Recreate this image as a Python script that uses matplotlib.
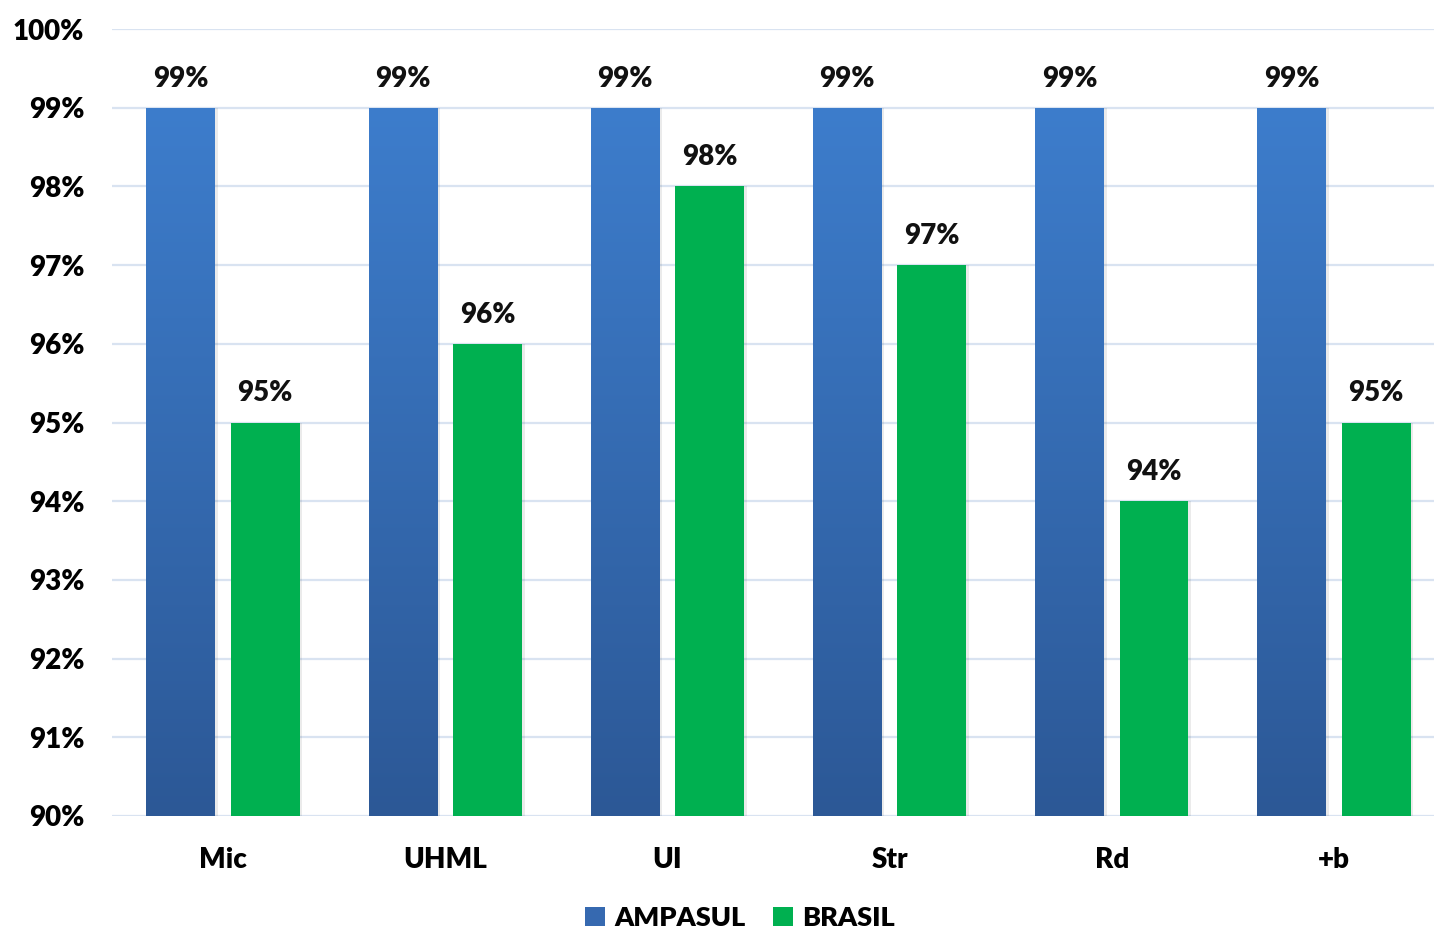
import numpy as np
import matplotlib.pyplot as plt
from matplotlib.patches import Patch, Rectangle
from matplotlib.colors import LinearSegmentedColormap

plt.rcParams['font.family'] = ['Lato', 'DejaVu Sans']
plt.rcParams['font.weight'] = 'heavy'

categories = ['Mic', 'UHML', 'UI', 'Str', 'Rd', '+b']
ampasul = [99, 99, 99, 99, 99, 99]
brasil = [95, 96, 98, 97, 94, 95]
series_names = ['AMPASUL', 'BRASIL']

blue_top = '#3D7DCC'
blue_bottom = '#2C5896'
green = '#00B050'
grid_color = '#D9E3F1'
fs = 20
fw = 'heavy'

fig = plt.figure(figsize=(14.34, 9.31), dpi=100)
ax = fig.add_axes([112 / 1434, 1 - 816 / 931, 1333 / 1434, 787 / 931])

x = np.arange(len(categories))
width = 0.31
offset = 0.19
ymin, ymax = 90, 100

blue_cmap = LinearSegmentedColormap.from_list('bluegrad', [blue_bottom, blue_top])
grad = np.linspace(0, 1, 256).reshape(-1, 1)

# blue bars with a vertical gradient, clipped to each bar
for xi, v in zip(x, ampasul):
    left = xi - offset - width / 2
    ax.add_patch(Rectangle((left + 0.012, ymin), width, v - ymin, facecolor='#000000',
                           alpha=0.08, edgecolor='none', zorder=2))
    bar = ax.bar(xi - offset, v - ymin, width, bottom=ymin, color='none', zorder=3)[0]
    im = ax.imshow(grad, cmap=blue_cmap, origin='lower', aspect='auto',
                   extent=(left, left + width, ymin, v), zorder=3)
    im.set_clip_path(bar)
    ax.text(xi - offset, v + 0.37, f'{v}%', ha='center', va='center', fontsize=fs,
            fontweight=fw, color='#111111')

for xi, v in zip(x, brasil):
    left = xi + offset - width / 2
    ax.add_patch(Rectangle((left + 0.012, ymin), width, v - ymin, facecolor='#000000',
                           alpha=0.08, edgecolor='none', zorder=2))
    ax.bar(xi + offset, v - ymin, width, bottom=ymin, color=green, zorder=3)
    ax.text(xi + offset, v + 0.37, f'{v}%', ha='center', va='center', fontsize=fs,
            fontweight=fw, color='#111111')

ax.set_xlim(-0.5, len(categories) - 0.5)
ax.set_ylim(ymin, ymax)
ax.set_yticks(np.arange(ymin, ymax + 1, 1))
ax.set_yticklabels([f'{t}%' for t in range(ymin, ymax + 1)], fontsize=fs, fontweight=fw)
ax.set_xticks(x)
ax.set_xticklabels(categories, fontsize=fs, fontweight=fw)
ax.tick_params(length=0)
ax.tick_params(axis='y', pad=20)
ax.tick_params(axis='x', pad=22)
ax.grid(axis='y', color=grid_color, linewidth=1.6, zorder=0)
ax.set_axisbelow(True)
for s in ax.spines.values():
    s.set_visible(False)

handles = [Patch(facecolor='#3669B0', edgecolor='none'), Patch(facecolor=green, edgecolor='none')]
fig.legend(handles, series_names, loc='center', bbox_to_anchor=(740 / 1434, 1 - 918 / 931),
           ncol=2, frameon=False, handlelength=0.75, handleheight=0.75,
           handletextpad=0.35, columnspacing=1.0, prop={'weight': fw, 'size': 19.5})

fig.savefig('out.png', dpi=100)
